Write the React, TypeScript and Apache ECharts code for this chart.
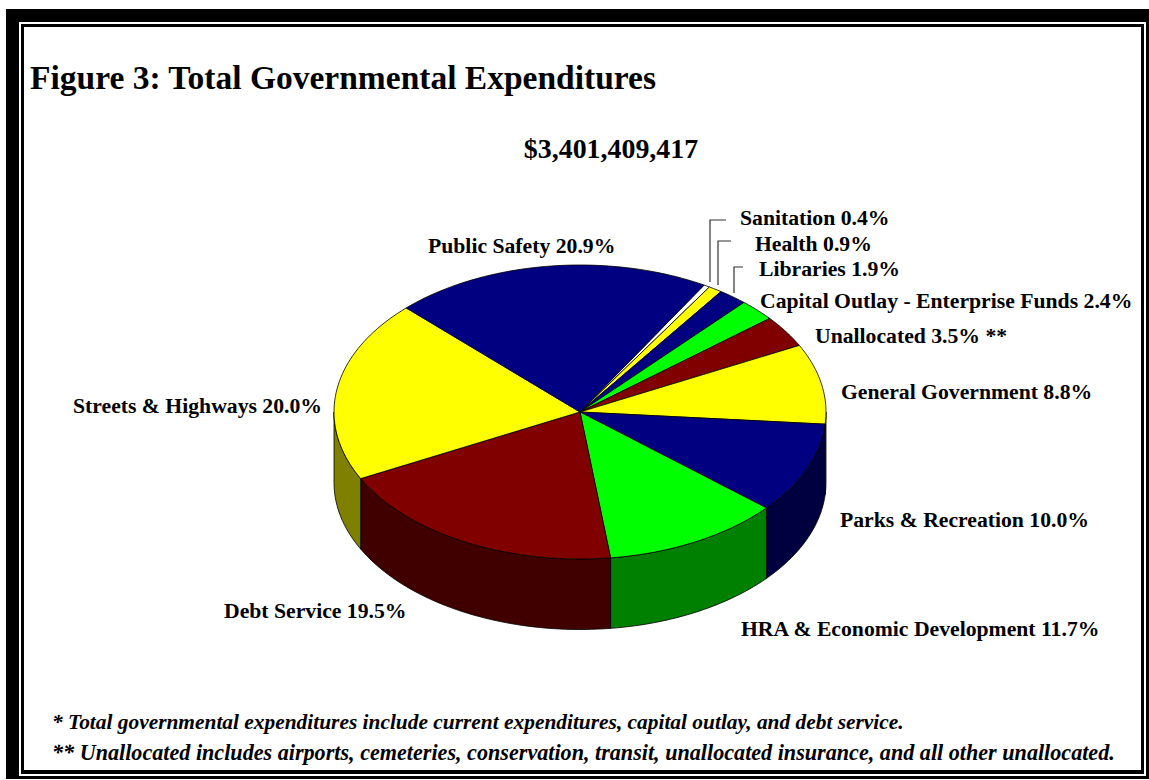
import React, { useEffect, useRef } from "react";
import * as echarts from "echarts";

const categories = [
  "Sanitation",
  "Health",
  "Libraries",
  "Capital Outlay - Enterprise Funds",
  "Unallocated",
  "General Government",
  "Parks & Recreation",
  "HRA & Economic Development",
  "Debt Service",
  "Streets & Highways",
  "Public Safety",
];
const shares = [0.4, 0.9, 1.9, 2.4, 3.5, 8.8, 10.0, 11.7, 19.5, 20.0, 20.9];
const topColors = ["#ffffff", "#ffff00", "#000080", "#00ff00", "#800000", "#ffff00", "#000080", "#00ff00", "#800000", "#ffff00", "#000080"];
const wallColors = ["#808080", "#808000", "#000040", "#008000", "#400000", "#808000", "#000040", "#008000", "#400000", "#808000", "#000040"];
const labelSuffix = ["", "", "", "", " **", "", "", "", "", "", ""];
const labelX = [740, 755, 759, 760, 815, 841, 840, 741, 224, 73, 428];
const labelY = [218, 244, 269, 301, 336, 392, 520, 629, 611, 406, 246];

const titleText = "Figure 3: Total Governmental Expenditures";
const totalText = "$3,401,409,417";
const footnotes = [
  "* Total governmental expenditures include current expenditures, capital outlay, and debt service.",
  "** Unallocated includes airports, cemeteries, conservation, transit, unallocated insurance, and all other unallocated.",
];

const CX = 580;
const CY = 412;
const RX = 246;
const RY = 147;
const DEPTH = 70.5;
const START_DEG = 30.3;
const SERIF = "'Liberation Serif', 'Times New Roman', serif";

const toXY = (deg: number, drop = 0): number[] => {
  const r = (deg * Math.PI) / 180;
  return [CX + RX * Math.sin(r), CY - RY * Math.cos(r) + drop];
};

const arc = (from: number, to: number, drop = 0): number[][] => {
  const n = Math.max(2, Math.ceil(Math.abs(to - from) / 1.5));
  const out: number[][] = [];
  for (let i = 0; i <= n; i++) out.push(toXY(from + ((to - from) * i) / n, drop));
  return out;
};

const total = shares.reduce((a, b) => a + b, 0);

const renderSlice = (params: any, api: any) => {
  const i = params.dataIndex;
  const before = shares.slice(0, i).reduce((a, b) => a + b, 0);
  const a0 = START_DEG + (before / total) * 360;
  const a1 = a0 + (api.value(0) / total) * 360;
  const stroke = { stroke: "#000", lineWidth: 0.8, lineJoin: "round" };
  const children: any[] = [];
  const w0 = Math.max(a0, 90);
  const w1 = Math.min(a1, 270);
  if (w1 > w0) {
    children.push({
      type: "polygon",
      shape: { points: [...arc(w0, w1, 0), ...arc(w1, w0, DEPTH)] },
      style: { fill: wallColors[i], ...stroke },
    });
  }
  children.push({
    type: "polygon",
    shape: { points: [[CX, CY], ...arc(a0, a1)] },
    style: { fill: topColors[i], ...stroke },
  });
  return { type: "group", children };
};

const rect = (x: number, y: number, width: number, height: number, fill: string) => ({
  type: "rect",
  shape: { x, y, width, height },
  style: { fill },
  silent: true,
});

const text = (x: number, y: number, t: string, size: number, extra: any = {}) => ({
  type: "text",
  x,
  y,
  silent: true,
  style: {
    text: t,
    fill: "#000",
    font: `${extra.italic ? "italic " : ""}bold ${size}px ${SERIF}`,
    textAlign: extra.align || "left",
    textVerticalAlign: "middle",
    verticalAlign: "middle",
  },
});

const leader = (points: number[][]) => ({
  type: "polyline",
  shape: { points },
  style: { stroke: "#333", lineWidth: 1.2, fill: "none" },
  silent: true,
});

export default function App() {
  const ref = useRef<HTMLDivElement>(null);
  useEffect(() => {
    document.body.style.margin = "0";
    const chart = echarts.init(ref.current!, undefined, { renderer: "svg" });
    chart.setOption({
      animation: false,
      backgroundColor: "#fff",
      graphic: {
        elements: [
          rect(6, 9, 1143, 770, "#000"),
          rect(19, 22, 1127, 754, "#fff"),
          rect(21, 24, 1123, 750, "#000"),
          rect(24, 27, 1117, 743, "#fff"),
          text(30, 77, titleText, 33.5),
          text(611, 148, totalText, 27.9, { align: "center" }),
          ...categories.map((c, i) =>
            text(labelX[i], labelY[i], `${c} ${shares[i].toFixed(1)}%${labelSuffix[i]}`, 21.7)
          ),
          text(52, 722, footnotes[0], 21.4, { italic: true }),
          text(52, 752, footnotes[1], 22.15, { italic: true }),
          leader([[726, 220], [710, 220], [710, 282]]),
          leader([[731, 241], [718, 241], [718, 285]]),
          leader([[743, 267], [734, 267], [734, 293]]),
        ],
      },
      series: [
        {
          type: "custom",
          coordinateSystem: "none",
          silent: true,
          data: shares.map((v) => [v]),
          renderItem: renderSlice,
        },
      ],
    });
    return () => chart.dispose();
  }, []);
  return <div ref={ref} style={{ position: "absolute", left: 0, top: 0, width: 1149, height: 780 }} />;
}
